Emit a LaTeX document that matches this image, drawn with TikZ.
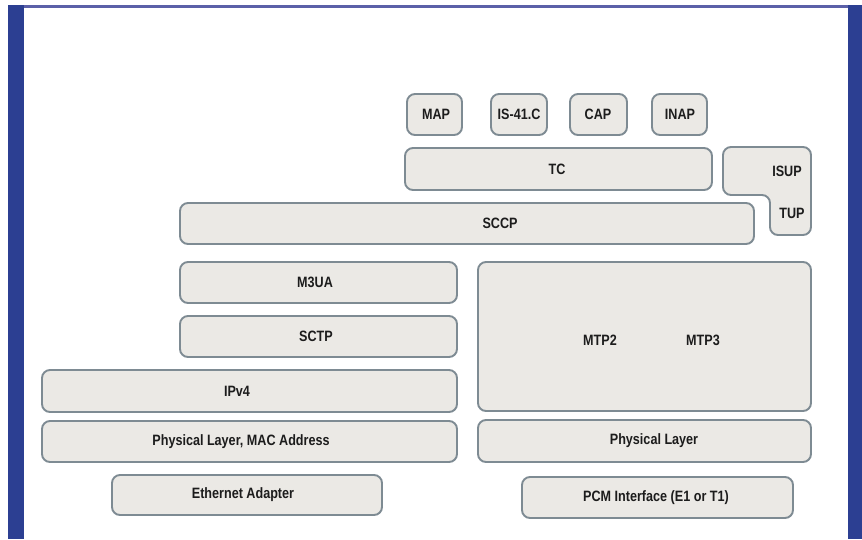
\documentclass[tikz,border=0pt]{standalone}
\usepackage{fontspec}
\setmainfont{Liberation Sans}[FakeStretch=0.84]
\definecolor{layerfill}{HTML}{EBE9E5}
\definecolor{layerline}{HTML}{7E8B93}
\definecolor{framedark}{HTML}{2C3F92}
\definecolor{frametop}{HTML}{5B60A8}
\definecolor{labelink}{HTML}{1C1C1C}
\tikzset{
  layer/.style={draw=layerline, fill=layerfill, line width=1.9pt,
    rounded corners=8pt, inner sep=0pt, outer sep=0pt},
  label/.style={font=\bfseries\fontsize{15}{17}\selectfont, text=labelink,
    inner sep=0pt}
}
% \layerbox{name}{left}{top}{right}{bottom}{label x}{text}
\newcommand{\layerbox}[7]{%
  \path[layer] (#2,#3) rectangle (#4,#5);
  \node[label] (#1) at (#6,{(#3+#5)/2}) {#7};
}
\begin{document}
\begin{tikzpicture}[x=1pt,y=-1pt]
\useasboundingbox (0,0) rectangle (862,539);
% frame
\fill[white] (0,0) rectangle (862,539);
\fill[frametop] (8,5) rectangle (848,7.5);
\fill[framedark] (8,5) rectangle (24,539);
\fill[framedark] (848,5) rectangle (862,539);

% application parts
\layerbox{map}{407}{94}{462}{135}{436}{MAP}
\layerbox{is41}{491}{94}{547}{135}{519}{IS-41.C}
\layerbox{cap}{570}{94}{627}{135}{598}{CAP}
\layerbox{inap}{652}{94}{707}{135}{680}{INAP}
\layerbox{tc}{405}{148}{712}{190}{557}{TC}

% ISUP / TUP user parts
\path[layer] (723,147) -- (811,147) -- (811,235) -- (770,235)
  -- (770,195) -- (723,195) -- cycle;
\node[label] (isup) at (787,171) {ISUP};
\node[label] (tup) at (792,213) {TUP};

\layerbox{sccp}{180}{203}{754}{244}{500}{SCCP}

% SIGTRAN stack
\layerbox{m3ua}{180}{262}{457}{303}{315}{M3UA}
\layerbox{sctp}{180}{316}{457}{357}{316}{SCTP}
\layerbox{ipv4}{42}{370}{457}{412}{237}{IPv4}
\layerbox{phymac}{42}{421}{457}{462}{241}{Physical Layer, MAC Address}
\layerbox{eth}{112}{475}{382}{515}{243}{Ethernet Adapter}

% SS7 stack
\path[layer] (478,262) rectangle (811,411);
\node[label] (mtp2) at (600,340) {MTP2};
\node[label] (mtp3) at (703,340) {MTP3};
\layerbox{phy}{478}{420}{811}{462}{654}{Physical Layer}
\layerbox{pcm}{522}{477}{793}{518}{656}{PCM Interface (E1 or T1)}
\end{tikzpicture}
\end{document}
